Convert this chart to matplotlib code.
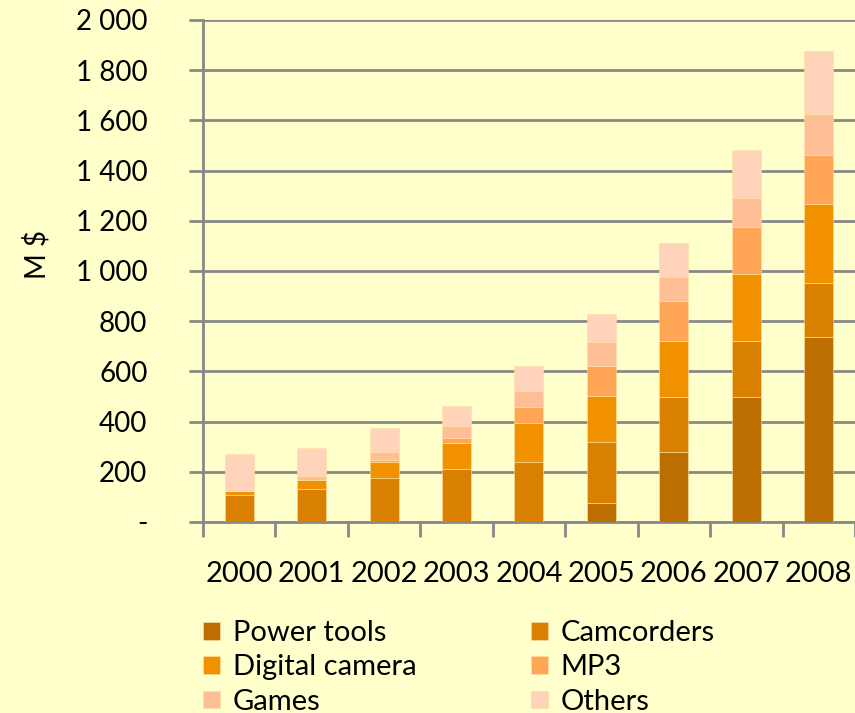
import numpy as np
import matplotlib.pyplot as plt
from matplotlib.ticker import FuncFormatter, FixedLocator

plt.rcParams['font.family'] = ['Lato', 'DejaVu Sans']

# Data (M $)
years = ['2000', '2001', '2002', '2003', '2004', '2005', '2006', '2007', '2008']
power_tools = [0, 0, 0, 0, 0, 75, 278, 497, 736]
camcorders = [109, 133, 177, 210, 238, 243, 219, 223, 215]
digital_camera = [14, 36, 63, 106, 158, 184, 225, 269, 315]
mp3 = [0, 0, 8, 17, 61, 120, 160, 188, 197]
games = [0, 14, 31, 51, 66, 96, 94, 115, 164]
others = [148, 113, 94, 77, 99, 111, 136, 189, 249]

series = [
    ('Power tools', power_tools, '#BD6E00'),
    ('Camcorders', camcorders, '#DA8000'),
    ('Digital camera', digital_camera, '#F29100'),
    ('MP3', mp3, '#FFA656'),
    ('Games', games, '#FFBF96'),
    ('Others', others, '#FFD4BA'),
]

bg = '#FFFFCC'
grid_col = '#898989'

fig = plt.figure(figsize=(8.55, 7.13), dpi=100, facecolor=bg)
ax = fig.add_axes([0.2374, 0.2679, 0.7626, 0.7041], facecolor=bg)

x = np.arange(len(years))
bottom = np.zeros(len(years))
handles = {}
for name, vals, col in series:
    b = ax.bar(x, vals, width=0.4, bottom=bottom, color=col, label=name,
               edgecolor='#FFE0A0', linewidth=0.4, zorder=3)
    handles[name] = b
    bottom += np.array(vals)

ax.set_xlim(-0.5, len(years) - 0.5)
ax.set_ylim(0, 2000)
ax.set_yticks(np.arange(0, 2001, 200))
ax.yaxis.set_major_formatter(FuncFormatter(
    lambda v, p: '-' if v == 0 else f'{int(v):,}'.replace(',', ' ')))
ax.yaxis.grid(True, color=grid_col, linewidth=2, zorder=0)
ax.set_axisbelow(True)

ax.set_xticks(x)
ax.set_xticklabels(years)
ax.xaxis.set_minor_locator(FixedLocator(np.arange(-0.5, len(years), 1.0)))
ax.tick_params(axis='x', which='major', length=0, pad=28, labelsize=21)
ax.tick_params(axis='x', which='minor', length=11, width=2, color=grid_col)
ax.tick_params(axis='y', length=10, width=2, color=grid_col, labelsize=20, pad=30)

for s in ['top', 'right']:
    ax.spines[s].set_visible(False)
for s in ['left', 'bottom']:
    ax.spines[s].set_color(grid_col)
    ax.spines[s].set_linewidth(2)

ax.set_ylabel('M $', fontsize=20)
ax.yaxis.set_label_coords(-0.2335, 0.532)

order = ['Power tools', 'Digital camera', 'Games', 'Camcorders', 'MP3', 'Others']
fig.legend([handles[n] for n in order], order, ncol=2, loc='upper left',
           bbox_to_anchor=(0.238, 0.130), frameon=False, fontsize=21,
           handlelength=0.55, handleheight=0.55, handletextpad=0.45,
           columnspacing=3.95, labelspacing=0.28, borderaxespad=0, borderpad=0)

fig.savefig('out.png', dpi=100, facecolor=bg)
